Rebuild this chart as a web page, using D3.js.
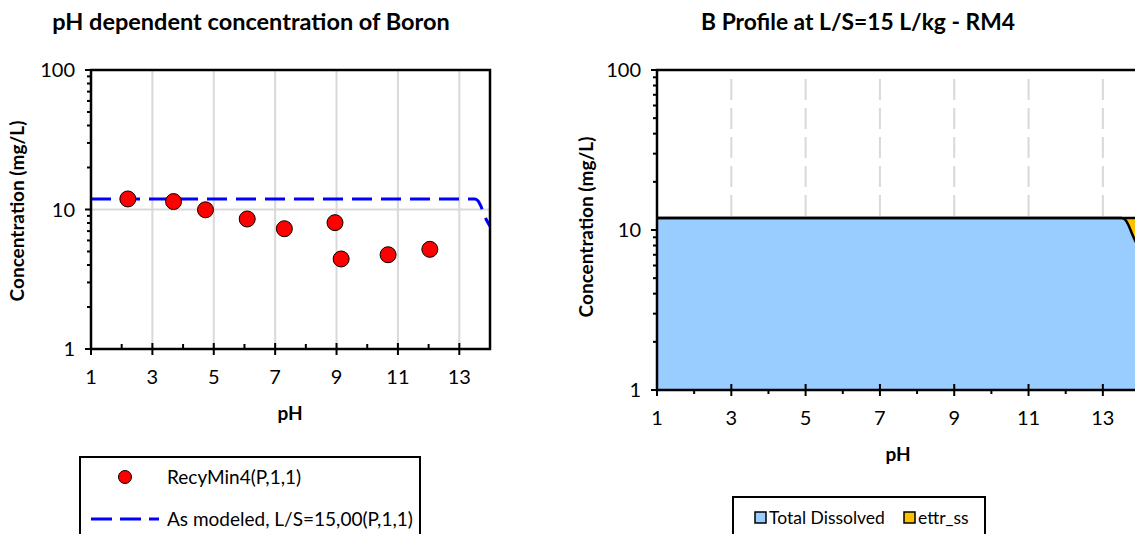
<!DOCTYPE html>
<html>
<head>
<meta charset="utf-8">
<script src="https://cdn.jsdelivr.net/npm/d3@7"></script>
<style>
  html, body { margin: 0; padding: 0; background: #fff; overflow: hidden; }
  text { font-family: Lato, "Open Sans", sans-serif; fill: #000; }
</style>
</head>
<body>
<svg id="chart" width="1135" height="534"></svg>
<script>
// Measured boron in leachate of RecyMin4 (pH, mg/L)
const samplePH   = [2.2, 3.69, 4.73, 6.09, 7.30, 8.95, 9.15, 10.68, 12.04];
const sampleConc = [11.9, 11.4, 9.95, 8.55, 7.28, 8.05, 4.42, 4.74, 5.18];

// Modelled partitioning at L/S = 15 L/kg
const modelPH        = [1, 13.5, 13.6, 13.7, 13.8, 13.9, 14];
const modelDissolved = [11.9, 11.9, 11.6, 10.6, 9.3, 8.3, 7.6];
const modelEttr      = [0, 0, 0.3, 1.3, 2.6, 3.6, 4.3];

// Axis ticks
const xMajorTicks = [1, 3, 5, 7, 9, 11, 13];
const xMinorTicks = [2, 4, 6, 8, 10, 12];
const yMajorTicks = [1, 10, 100];
const yMinorTicks = [2, 3, 4, 5, 6, 7, 8, 9, 20, 30, 40, 50, 60, 70, 80, 90];

const seriesNames = ["Total Dissolved", "ettr_ss"];
const seriesColors = ["#99CCFF", "#FFC000"];

const svg = d3.select("#chart");
const GRID = "#D9D9D9";
const TICK_FONT = 20;
const AXIS_TITLE_FONT = 19;

function drawAxes(g, x, y, opt) {
  const [x0, x1] = x.range();
  const [yb, yt] = y.range();
  // left axis: minor ticks outside
  g.append("g").selectAll("line").data(yMinorTicks).join("line")
    .attr("x1", x0 - 4).attr("x2", x0)
    .attr("y1", d => y(d)).attr("y2", d => y(d))
    .attr("stroke", "#000").attr("stroke-width", 2);
  g.append("g").selectAll("line").data(yMajorTicks).join("line")
    .attr("x1", x0 - 6).attr("x2", x0)
    .attr("y1", d => y(d)).attr("y2", d => y(d))
    .attr("stroke", "#000").attr("stroke-width", 2);
  g.append("g").selectAll("text").data(yMajorTicks).join("text")
    .attr("x", x0 - 16).attr("y", d => y(d) + 7)
    .attr("text-anchor", "end").attr("font-size", TICK_FONT)
    .text(d => d);
  // bottom axis ticks
  g.append("g").selectAll("line").data(xMinorTicks).join("line")
    .attr("x1", d => x(d)).attr("x2", d => x(d))
    .attr("y1", yb + opt.minorDown).attr("y2", yb - opt.minorUp)
    .attr("stroke", "#000").attr("stroke-width", 2);
  g.append("g").selectAll("line").data(xMajorTicks).join("line")
    .attr("x1", d => x(d)).attr("x2", d => x(d))
    .attr("y1", yb + 6).attr("y2", yb - 6)
    .attr("stroke", "#000").attr("stroke-width", 2);
  g.append("g").selectAll("text").data(xMajorTicks).join("text")
    .attr("x", d => x(d)).attr("y", yb + 35)
    .attr("text-anchor", "middle").attr("font-size", TICK_FONT)
    .text(d => d);
  // frame
  g.append("path")
    .attr("d", `M${x0},${yb}H${x1}V${yt}H${x0}Z`)
    .attr("fill", "none").attr("stroke", "#000").attr("stroke-width", 2.5);
}

// ---------- Left: pH dependent concentration ----------
{
  const x = d3.scaleLinear().domain([1, 14]).range([91, 490]);
  const y = d3.scaleLog().domain([1, 100]).range([349, 70]);
  const g = svg.append("g");

  g.append("g").selectAll("line").data(xMajorTicks.slice(1)).join("line")
    .attr("x1", d => x(d)).attr("x2", d => x(d))
    .attr("y1", y(1)).attr("y2", y(100))
    .attr("stroke", GRID).attr("stroke-width", 2);
  g.append("line")
    .attr("x1", x(1)).attr("x2", x(14)).attr("y1", y(10)).attr("y2", y(10))
    .attr("stroke", GRID).attr("stroke-width", 2);

  const line = d3.line().x(d => x(d[0])).y(d => y(d[1])).curve(d3.curveMonotoneX);
  g.append("path")
    .attr("d", line(modelPH.map((p, i) => [p, modelDissolved[i]])))
    .attr("fill", "none").attr("stroke", "#0000FF").attr("stroke-width", 3)
    .attr("stroke-dasharray", "20,9");

  drawAxes(g, x, y, { minorUp: 5, minorDown: 0 });

  g.append("g").selectAll("circle").data(samplePH).join("circle")
    .attr("cx", d => x(d)).attr("cy", (d, i) => y(sampleConc[i]))
    .attr("r", 8).attr("fill", "#FF0000").attr("stroke", "#000").attr("stroke-width", 1);

  g.append("text").attr("x", 251).attr("y", 30).attr("text-anchor", "middle")
    .attr("font-size", 23.5).attr("font-weight", "bold")
    .text("pH dependent concentration of Boron");
  g.append("text").attr("transform", "translate(24,211) rotate(-90)")
    .attr("text-anchor", "middle").attr("font-size", AXIS_TITLE_FONT).attr("font-weight", "bold")
    .text("Concentration (mg/L)");
  g.append("text").attr("x", 290).attr("y", 420).attr("text-anchor", "middle")
    .attr("font-size", AXIS_TITLE_FONT).attr("font-weight", "bold").text("pH");

  // legend
  const lg = g.append("g");
  lg.append("rect").attr("x", 80).attr("y", 457).attr("width", 340).attr("height", 120)
    .attr("fill", "#fff").attr("stroke", "#000").attr("stroke-width", 2);
  lg.append("circle").attr("cx", 125).attr("cy", 477).attr("r", 6.5)
    .attr("fill", "#FF0000").attr("stroke", "#000").attr("stroke-width", 1);
  lg.append("text").attr("x", 167).attr("y", 484).attr("font-size", 19).text("RecyMin4(P,1,1)");
  lg.append("line").attr("x1", 91).attr("x2", 159).attr("y1", 519).attr("y2", 519)
    .attr("stroke", "#0000FF").attr("stroke-width", 3).attr("stroke-dasharray", "21,8");
  lg.append("text").attr("x", 167).attr("y", 526).attr("font-size", 19)
    .text("As modeled, L/S=15,00(P,1,1)");
}

// ---------- Right: partitioning profile ----------
{
  const x = d3.scaleLinear().domain([1, 14]).range([657, 1140]);
  const y = d3.scaleLog().domain([1, 100]).range([390, 70]);
  const g = svg.append("g");

  g.append("g").selectAll("line").data(xMajorTicks.slice(1)).join("line")
    .attr("x1", d => x(d)).attr("x2", d => x(d))
    .attr("y1", y(1)).attr("y2", y(100) + 2)
    .attr("stroke", GRID).attr("stroke-width", 2).attr("stroke-dasharray", "21,8");

  const rows = modelPH.map((p, i) => ({ pH: p, [seriesNames[0]]: modelDissolved[i], [seriesNames[1]]: modelEttr[i] }));
  const stacked = d3.stack().keys(seriesNames)(rows);
  const area = d3.area()
    .x(d => x(d.data.pH))
    .y0(d => y(Math.max(d[0], 1)))
    .y1(d => y(d[1]))
    .curve(d3.curveMonotoneX);
  const topLine = d3.line().x(d => x(d.data.pH)).y(d => y(d[1])).curve(d3.curveMonotoneX);

  g.append("g").selectAll("path").data(stacked).join("path")
    .attr("d", area).attr("fill", (d, i) => seriesColors[i]);
  g.append("g").selectAll("path").data(stacked).join("path")
    .attr("d", topLine).attr("fill", "none").attr("stroke", "#000").attr("stroke-width", 2.5);

  drawAxes(g, x, y, { minorUp: 0, minorDown: 4 });

  g.append("text").attr("x", 858).attr("y", 30).attr("text-anchor", "middle")
    .attr("font-size", 22.8).attr("font-weight", "bold")
    .text("B Profile at L/S=15 L/kg - RM4");
  g.append("text").attr("transform", "translate(593,227) rotate(-90)")
    .attr("text-anchor", "middle").attr("font-size", AXIS_TITLE_FONT).attr("font-weight", "bold")
    .text("Concentration (mg/L)");
  g.append("text").attr("x", 898).attr("y", 461).attr("text-anchor", "middle")
    .attr("font-size", AXIS_TITLE_FONT).attr("font-weight", "bold").text("pH");

  // legend
  const lg = g.append("g");
  lg.append("rect").attr("x", 733).attr("y", 497).attr("width", 252).attr("height", 80)
    .attr("fill", "#fff").attr("stroke", "#000").attr("stroke-width", 2);
  const items = lg.selectAll("g").data(seriesNames).join("g")
    .attr("transform", (d, i) => `translate(${[755, 904][i]},512)`);
  items.append("rect").attr("width", 11).attr("height", 11)
    .attr("fill", (d, i) => seriesColors[i]).attr("stroke", "#000").attr("stroke-width", 1.5);
  items.append("text").attr("x", 14).attr("y", 12).attr("font-size", 17.5).text(d => d);
}
</script>
</body>
</html>
